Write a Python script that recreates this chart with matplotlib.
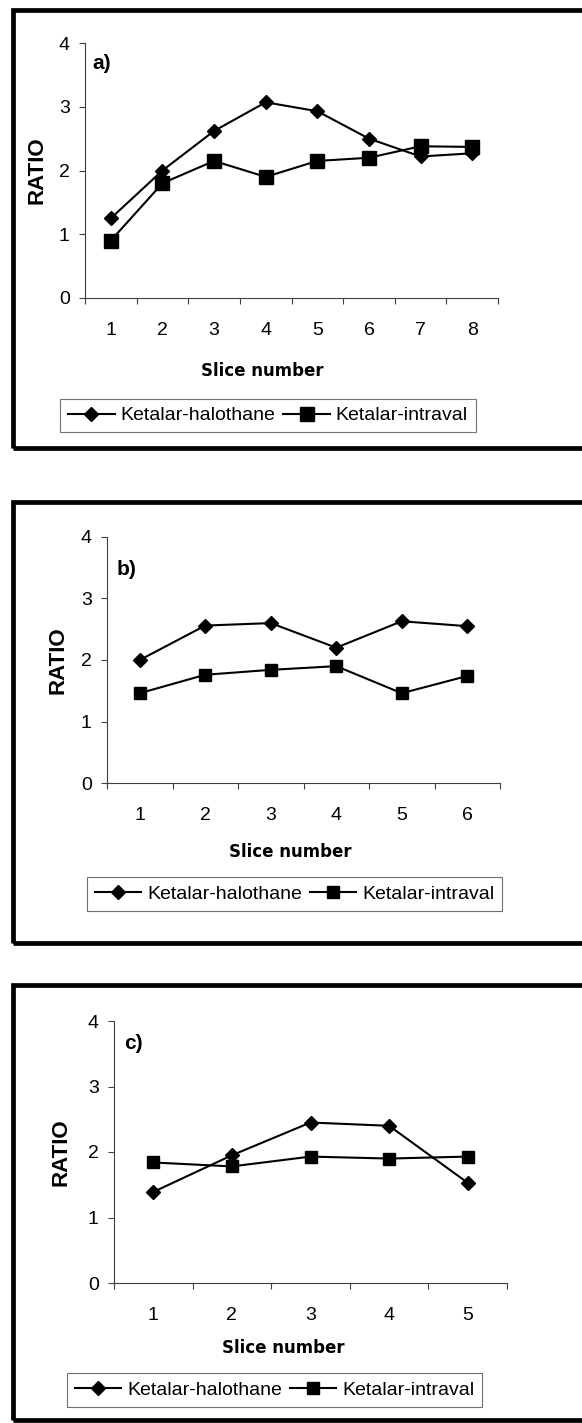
import numpy as np
import matplotlib.pyplot as plt
from matplotlib.patches import Rectangle

# data
slices_a = [1, 2, 3, 4, 5, 6, 7, 8]
halothane_a = [1.25, 2.0, 2.62, 3.07, 2.93, 2.5, 2.22, 2.27]
intraval_a = [0.9, 1.8, 2.15, 1.9, 2.15, 2.2, 2.38, 2.37]

slices_b = [1, 2, 3, 4, 5, 6]
halothane_b = [2.0, 2.56, 2.6, 2.2, 2.63, 2.55]
intraval_b = [1.46, 1.76, 1.84, 1.9, 1.46, 1.74]

slices_c = [1, 2, 3, 4, 5]
halothane_c = [1.39, 1.95, 2.45, 2.4, 1.53]
intraval_c = [1.84, 1.78, 1.93, 1.9, 1.93]

series_names = ['Ketalar-halothane', 'Ketalar-intraval']
panel_tags = ['a)', 'b)', 'c)']

W, H = 582, 1423
plt.rcParams['font.family'] = ['Liberation Sans', 'DejaVu Sans']

fig = plt.figure(figsize=(W / 100, H / 100), dpi=100)


def px_axes(left, right, top, bottom):
    # pixel box -> figure fraction
    return [left / W, 1 - bottom / H, (right - left) / W, (bottom - top) / H]


def frame(top, bottom, left=13, right=600):
    r = Rectangle((left / W, 1 - bottom / H), (right - left) / W, (bottom - top) / H,
                  transform=fig.transFigure, fill=False, edgecolor='black', linewidth=3.4)
    fig.add_artist(r)


def panel(box, x, h, i, tag, tagpos, ylab_x, xlab_pos, leg_center, sq=9):
    ax = fig.add_axes(px_axes(*box))
    ax.plot(x, h, color='black', lw=1.5, marker='D', ms=7, label=series_names[0])
    ax.plot(x, i, color='black', lw=1.5, marker='s', ms=sq, label=series_names[1])
    ax.set_xlim(0.5, len(x) + 0.5)
    ax.set_ylim(0, 4)
    ax.spines['top'].set_visible(False)
    ax.spines['right'].set_visible(False)
    for s in ['left', 'bottom']:
        ax.spines[s].set_linewidth(0.8)
        ax.spines[s].set_color('0.25')
    ax.set_xticks(x)
    ax.set_xticks(np.arange(0.5, len(x) + 1, 1), minor=True)
    ax.tick_params(axis='x', which='major', length=0, pad=17, labelsize=14)
    ax.tick_params(axis='x', which='minor', length=4, direction='out', width=0.8, color='0.25')
    ax.set_yticks([0, 1, 2, 3, 4])
    ax.tick_params(axis='y', length=4, width=0.8, pad=7, labelsize=14, color='0.25')
    ax.set_ylabel('RATIO', fontsize=16, fontweight='bold')
    ax.yaxis.set_label_coords(ylab_x, 0.5)
    ax.set_xlabel('Slice number', fontsize=12, fontweight='bold', family='DejaVu Sans')
    ax.xaxis.set_label_coords(*xlab_pos)
    ax.text(tagpos[0], tagpos[1], tag, transform=ax.transAxes, fontsize=15,
            fontweight='bold', ha='left', va='center')
    leg = fig.legend(*ax.get_legend_handles_labels(), loc='center', ncol=2,
                     bbox_to_anchor=(leg_center[0] / W, 1 - leg_center[1] / H),
                     fontsize=14, frameon=True, fancybox=False, handlelength=2.4,
                     columnspacing=0.4, handletextpad=0.3, borderpad=0.4)
    leg.get_frame().set_edgecolor('0.3')
    leg.get_frame().set_linewidth(0.8)
    return ax


frame(10, 448)
frame(502, 943)
frame(985, 1420)

panel((85, 498, 43, 298), slices_a, halothane_a, intraval_a, panel_tags[0],
      (0.017, 0.92), -0.09, (0.43, -0.251), (268, 415.5), sq=10)
panel((107, 500, 537, 783), slices_b, halothane_b, intraval_b, panel_tags[1],
      (0.025, 0.866), -0.099, (0.466, -0.244), (294.5, 894))
panel((114, 507, 1021, 1283), slices_c, halothane_c, intraval_c, panel_tags[2],
      (0.025, 0.916), -0.109, (0.43, -0.214), (274.5, 1390))

fig.savefig('out.png', dpi=100)
